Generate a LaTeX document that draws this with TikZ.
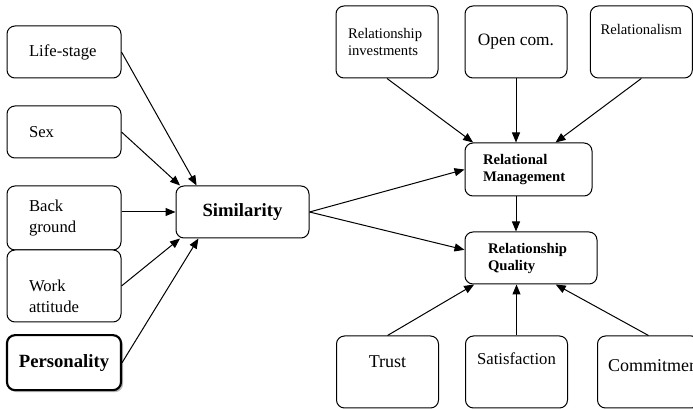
\documentclass[tikz,border=0pt]{standalone}
\usepackage{fontspec}
\setmainfont{Liberation Serif}
\usetikzlibrary{arrows.meta, shadows}
\tikzstyle{factor} = [rectangle, rounded corners=6pt, draw=black, line width=0.75pt, fill=white, font=\fontsize{12.5}{15.5}\selectfont]
\tikzstyle{leftbox} = [factor, minimum width=85.5pt, text width=52.5pt, inner xsep=16.5pt, align=left]
\tikzstyle{outcome} = [factor, minimum width=76.5pt, minimum height=54pt]
\tikzstyle{construct} = [factor, inner ysep=2pt, text width=64.5pt, align=left, font=\bfseries\fontsize{11}{12.75}\selectfont]
\tikzstyle{toptext} = [text height=8.5pt, text depth=16pt]
\tikzstyle{arrow} = [line width=0.75pt, -{Triangle[length=7.5pt, width=6pt]}]

\begin{document}
\begin{tikzpicture}[x=0.75pt, y=-0.75pt, node distance=60pt]
\useasboundingbox (0,0) rectangle (693,409);
\clip (0,0) rectangle (693,409);

% Left column
\node (life) [leftbox, minimum height=39pt] at (64,52) {Life-stage};
\node (sex) [leftbox, minimum height=39pt, below of=life] {Sex};
\node (bg) [leftbox, minimum height=48pt, below of=sex, yshift=-4.5pt] {Back\\ground};
\node (wa) [leftbox, minimum height=54pt, below of=bg, yshift=9pt] {\rule{0pt}{24pt}Work\\attitude};
\node (pers) [factor, minimum width=85.5pt, minimum height=41.25pt, below of=wa, yshift=2.5pt, line width=1.6pt, drop shadow={shadow xshift=1.5pt, shadow yshift=-1.5pt, fill=gray!55, opacity=1}, font=\bfseries\fontsize{14}{16}\selectfont] {Personality};

% Similarity
\node (sim) [factor, minimum width=99.75pt, minimum height=39pt, font=\bfseries\fontsize{14}{16}\selectfont] at (242.5,212) {Similarity};

% Top row
\node (ri) [outcome, text width=58.5pt, inner xsep=9pt, align=left, font=\fontsize{11}{12.75}\selectfont] at (387,42) {Relationship investments};
\node (oc) [outcome, right of=ri, xshift=36.75pt, font=\fontsize{13}{15}\selectfont] {Open com.};
\node (rel) [outcome, toptext, text height=8pt, text depth=18.6pt, right of=oc, xshift=34pt, font=\fontsize{11}{12.75}\selectfont] {Relationalism};

% Relational constructs
\node (rm) [construct, minimum width=95.25pt, minimum height=39.75pt, text width=68.25pt, inner xsep=13.5pt] at (528.5,169.5) {Relational\\Management};
\node (rq) [construct, minimum width=99pt, minimum height=39pt, inner xsep=17.25pt] at (531,258) {Relationship\\Quality};

% Bottom row
\node (trust) [outcome, text height=9.5pt, text depth=15.5pt, font=\fontsize{13.5}{16}\selectfont] at (387.5,372) {Trust};
\node (sat) [outcome, toptext, text depth=19pt, right of=trust, xshift=36.75pt] {Satisfaction};
\node (com) [outcome, text height=9.5pt, text depth=9.5pt, inner xsep=8pt, right of=sat, xshift=39pt, font=\fontsize{13.5}{16}\selectfont] {\makebox[60.5pt][l]{Commitment}};

% Connecting arrows
\draw [arrow] (life.east) -- (sim.150);
\draw [arrow] (sex.east) -- (sim.157);
\draw [arrow] (bg.east |- sim.west) -- (sim.west);
\draw [arrow] (wa.east) -- (sim.203);
\draw [arrow] (pers.east) -- (sim.211);

\draw [arrow] (sim.east) -- (rm.west);
\draw [arrow] (sim.east) -- (rq.173);

\draw [arrow] (ri.south) -- (rm.154);
\draw [arrow] (oc.south) -- (oc.south |- rm.north);
\draw [arrow] (rel.south) -- (rm.45);
\draw [arrow] (oc.south |- rm.south) -- (oc.south |- rq.north);

\draw [arrow] (trust.north) -- (rq.205);
\draw [arrow] (sat.north) -- (sat.north |- rq.south);
\draw [arrow] (com.north) -- (rq.-47);

\end{tikzpicture}
\end{document}
